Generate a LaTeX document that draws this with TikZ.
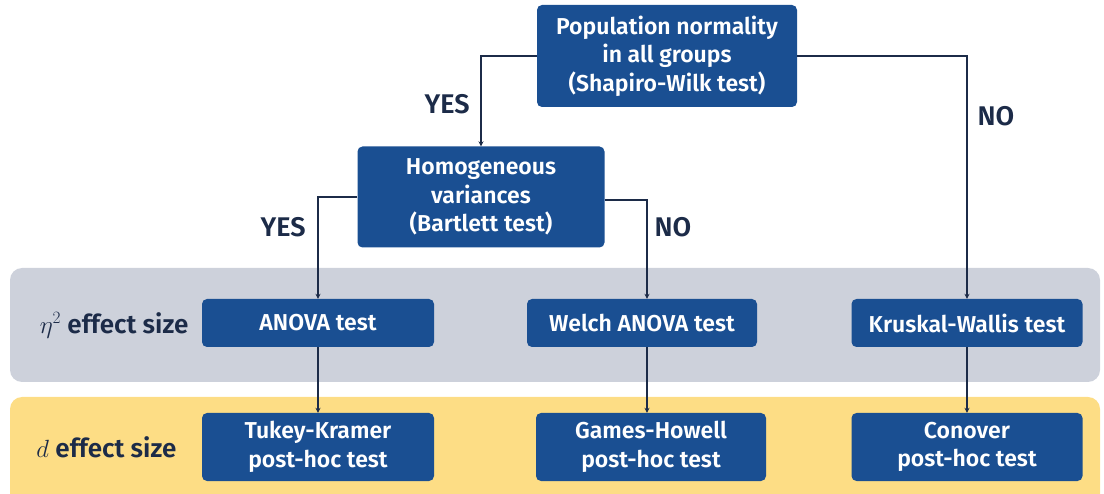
\documentclass[tikz,border=0pt]{standalone}
\usepackage{fontspec}
\setmainfont{Fira Sans}
\newfontfamily\semibf{Fira Sans SemiBold}
\usepackage{tikz}
\usetikzlibrary{arrows.meta,positioning,calc}
\definecolor{boxblue}{HTML}{1A4F92}
\definecolor{navy}{HTML}{1C2B48}
\definecolor{bandgray}{HTML}{CDD1DB}
\definecolor{bandyellow}{HTML}{FDDD85}
\tikzset{
  test/.style  ={rounded corners=5pt,fill=boxblue,text=white,align=center,
                 inner sep=2pt,font=\fontsize{23}{28.5}\selectfont\semibf},
  band/.style  ={rounded corners=12pt},
  answer/.style={text=navy,font=\fontsize{27}{30}\selectfont\semibf},
  side/.style  ={text=navy,anchor=east,font=\fontsize{26}{30}\selectfont\semibf},
  flow/.style  ={-{Stealth[length=5pt,width=5pt]},line width=1.3pt,draw=navy}
}
\begin{document}
\begin{tikzpicture}[x=1pt,y=-1pt]
        \useasboundingbox (0,0) rectangle (1104,494);
        \clip (0,0) rectangle (1104,494);
        % bands
        \fill[band,bandgray] (10,268) rectangle (1100,382);
        \fill[band,bandyellow] (10,397) rectangle (1100,520);
        % decision nodes
        \node[test,minimum width=260pt,minimum height=102pt] (norm) at (667,56)
          {Population normality\\in all groups\\(Shapiro-Wilk test)};
        \node[test,minimum width=247pt,minimum height=101pt] (homog) at (481,197)
          {Homogeneous\\variances\\(Bartlett test)};
        % tests
        \node[test,minimum width=232pt,minimum height=48pt] (anova) at (318,323) {ANOVA test};
        \node[test,minimum width=230pt,minimum height=48pt] (welch) at (642,323) {Welch ANOVA test};
        \node[test,minimum width=231pt,minimum height=48pt] (kw) at (967,323) {Kruskal-Wallis test};
        % post-hoc
        \node[test,minimum width=232pt,minimum height=68pt] (tukey) at (318,447) {Tukey-Kramer\\post-hoc test};
        \node[test,minimum width=230pt,minimum height=68pt] (games) at (651,447) {Games-Howell\\post-hoc test};
        \node[test,minimum width=231pt,minimum height=68pt] (conover) at (967,447) {Conover\\post-hoc test};
        % row labels
        \node[side] (eta) at (192,325) {$\eta^2$ effect size};
        \node[side] (dsize) at (180,447) {$d$ effect size};
        % connectors
        \draw[flow] (norm.west) -| (homog);
        \draw[flow] (norm.east) -| (kw);
        \draw[flow] (homog.west) -| (anova);
        \draw[flow] ($(homog.east)+(0,3)$) -| ($(welch.north)+(5,0)$);
        \draw[flow] (anova) -- (tukey);
        \draw[flow] ($(welch.south)+(5,0)$) -- ($(welch.south |- games.north)+(5,0)$);
        \draw[flow] (kw) -- (conover);
        \node[answer] (yes1) at (447,104) {YES};
        \node[answer] (no1) at (996,116) {NO};
        \node[answer] (yes2) at (283,227) {YES};
        \node[answer] (no2) at (673,227) {NO};
      \end{tikzpicture}
\end{document}
